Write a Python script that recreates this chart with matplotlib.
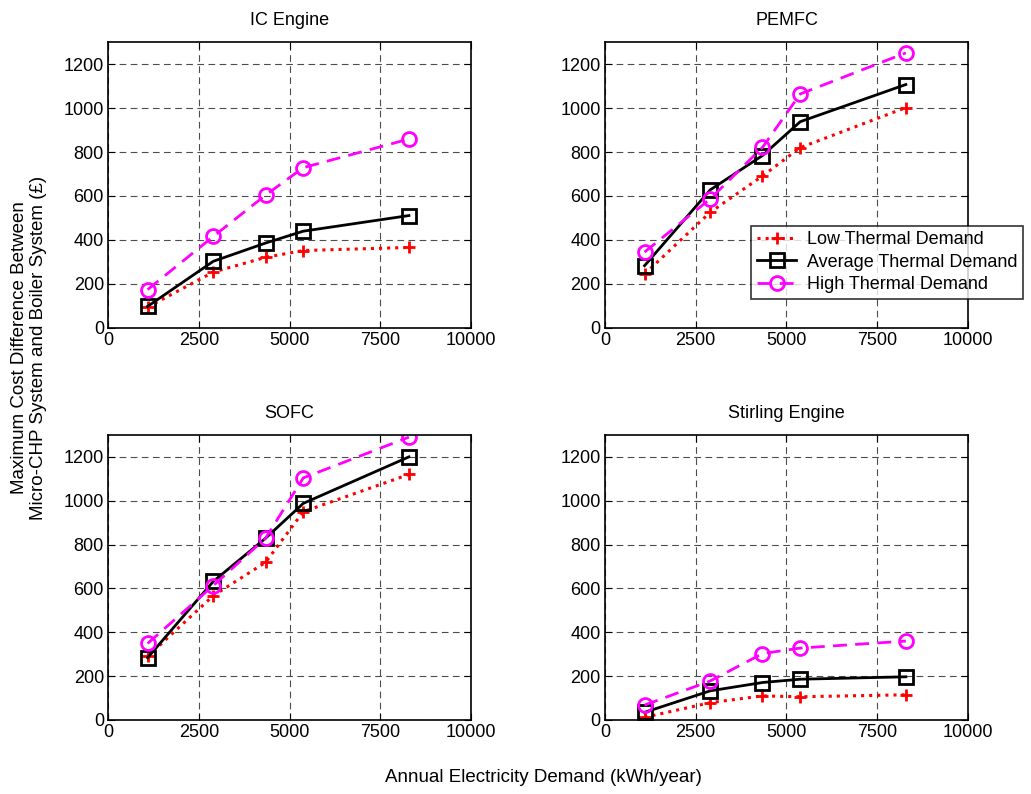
import numpy as np
import matplotlib
matplotlib.use('Agg')
import matplotlib.pyplot as plt

plt.rcParams['font.family'] = ['Liberation Sans', 'DejaVu Sans']

# Annual electricity demand (kWh/year)
demand = [1090, 2900, 4340, 5380, 8290]

titles = ['IC Engine', 'PEMFC', 'SOFC', 'Stirling Engine']

# Maximum cost difference (GBP) per technology
low = {
    'IC Engine': [94, 254, 321, 352, 366],
    'PEMFC': [245, 526, 691, 820, 1002],
    'SOFC': [290, 567, 719, 950, 1120],
    'Stirling Engine': [12, 79, 110, 106, 115],
}
avg = {
    'IC Engine': [98, 303, 386, 440, 511],
    'PEMFC': [283, 628, 784, 938, 1107],
    'SOFC': [284, 632, 829, 988, 1200],
    'Stirling Engine': [35, 133, 171, 186, 197],
}
high = {
    'IC Engine': [174, 416, 604, 729, 859],
    'PEMFC': [345, 587, 821, 1064, 1251],
    'SOFC': [349, 613, 829, 1104, 1290],
    'Stirling Engine': [68, 178, 303, 328, 360],
}

series_labels = ['Low Thermal Demand', 'Average Thermal Demand', 'High Thermal Demand']

fig = plt.figure(figsize=(10.31, 7.94), dpi=100)

# axes positions in figure fractions (left, bottom, width, height)
positions = [
    [0.1048, 0.587, 0.352, 0.360],
    [0.5868, 0.587, 0.352, 0.360],
    [0.1048, 0.0932, 0.352, 0.359],
    [0.5868, 0.0932, 0.352, 0.359],
]

fs = 13
for i, name in enumerate(titles):
    ax = fig.add_axes(positions[i])
    l1, = ax.plot(demand, low[name], color='red', linestyle=':', linewidth=2.2,
                  marker='+', markersize=9, markeredgewidth=2)
    l2, = ax.plot(demand, avg[name], color='black', linestyle='-', linewidth=2,
                  marker='s', markersize=10, markerfacecolor='none', markeredgewidth=2)
    l3, = ax.plot(demand, high[name], color='magenta', linestyle=(0, (5, 3)), linewidth=2,
                  marker='o', markersize=10, markerfacecolor='none', markeredgewidth=2)

    ax.set_xlim(0, 10000)
    ax.set_ylim(0, 1300)
    ax.set_xticks([0, 2500, 5000, 7500, 10000])
    ax.set_yticks(np.arange(0, 1201, 200))
    ax.tick_params(direction='in', top=True, right=True, labelsize=fs, length=5, pad=3)
    ax.grid(True, color='black', linestyle=(0, (6, 4)), linewidth=0.8, alpha=0.7)
    for s in ax.spines.values():
        s.set_linewidth(1.2)
    ax.set_title(name, fontsize=fs, pad=12)

    if name == 'PEMFC':
        leg = ax.legend([l1, l2, l3], series_labels, fontsize=fs,
                        loc='upper left', bbox_to_anchor=(0.403, 0.357),
                        frameon=True, fancybox=False, edgecolor='black',
                        handlelength=2.2, borderpad=0.3, labelspacing=0.3,
                        handletextpad=0.6, borderaxespad=0)
        leg.get_frame().set_linewidth(1.2)
        leg.set_clip_on(False)

fig.text(0.028, 0.562, 'Maximum Cost Difference Between\nMicro-CHP System and Boiler System (£)',
         rotation=90, ha='center', va='center', fontsize=13.5, linespacing=1.1)
fig.text(0.527, 0.021, 'Annual Electricity Demand (kWh/year)', ha='center', va='center', fontsize=13.5)

fig.savefig('out.png', dpi=100)
